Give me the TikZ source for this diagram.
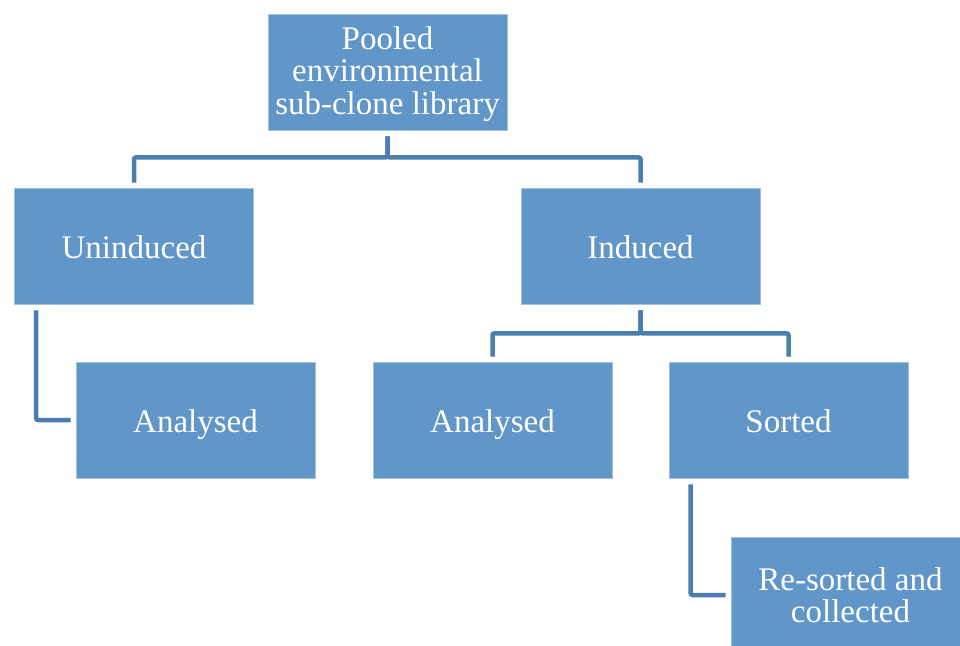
\documentclass[tikz,border=0pt]{standalone}
\usepackage{fontspec}
\setmainfont{Liberation Serif}
\usetikzlibrary{calc}
\definecolor{boxfill}{HTML}{6196C9}
\definecolor{boxline}{HTML}{A3C0E0}
\definecolor{connc}{HTML}{4A7EB1}
\tikzset{
  box/.style={rectangle, fill=boxfill, draw=boxline, line width=0.8pt,
    minimum width=239pt, minimum height=116pt, inner sep=0pt,
    text=white, align=center, font=\fontsize{33}{32.5}\selectfont},
  one/.style={text height=32pt, text depth=8pt},
  conn/.style={draw=connc, line width=4.5pt, rounded corners=2pt,
    shorten <=6pt, shorten >=5pt}
}
\begin{document}
\begin{tikzpicture}[x=1pt,y=-1pt]
\useasboundingbox (0,0) rectangle (960,645);
\fill[white] (0,0) rectangle (960,645);
\clip (0,0) rectangle (960,645);
\node[box, text depth=3pt] (top) at (387.5,72) {Pooled\\environmental\\sub-clone library};
\node[box, one] (unind) at (134,246) {Uninduced};
\node[box, one] (ind) at (640.5,246) {Induced};
\node[box, one] (anL) at (195.5,420) {Analysed};
\node[box, one] (anM) at (492.5,420) {Analysed};
\node[box, one] (sorted) at (788.5,420) {Sorted};
\node[box] (res) at (850.5,595) {Re-sorted and\\collected};
\draw[conn] (top.south) -- ++(0,27) -| (unind.north);
\draw[conn] (top.south) -- ++(0,27) -| (ind.north);
\draw[conn] ($(unind.south west)+(22,0)$) |- (anL.west);
\draw[conn] (ind.south) -- ++(0,29) -| (anM.north);
\draw[conn] (ind.south) -- ++(0,29) -| (sorted.north);
\draw[conn] ($(sorted.south west)+(22,0)$) |- (res.west);
\end{tikzpicture}
\end{document}
